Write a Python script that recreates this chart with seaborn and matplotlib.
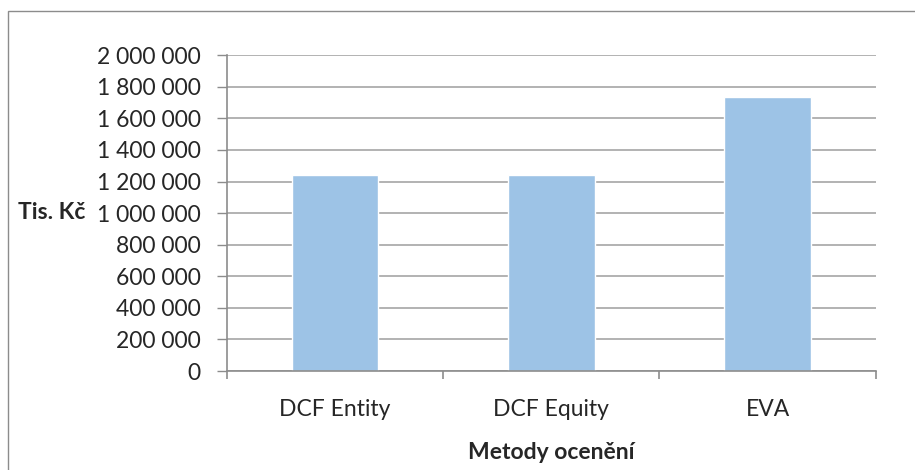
import pandas as pd
import matplotlib.pyplot as plt
import seaborn as sns
from matplotlib.patches import Rectangle
from matplotlib.ticker import FuncFormatter, FixedLocator

# Data
metody = ['DCF Entity', 'DCF Equity', 'EVA']
hodnoty = [1244000, 1244000, 1733000]
y_ticks = list(range(0, 2000001, 200000))

data = pd.DataFrame({'Metoda': metody, 'Hodnota': hodnoty})

sns.set_style('white')
plt.rcParams['font.family'] = ['Lato', 'DejaVu Sans']
fs = 16.5

fig = plt.figure(figsize=(9.15, 4.7), dpi=100)
ax = fig.add_axes([0.248, 0.2106, 0.709, 0.672])

sns.barplot(data=data, x='Metoda', y='Hodnota', color='#9DC3E6',
            width=0.40, saturation=1, ax=ax)

ax.set_xlim(-0.5, 2.5)
ax.set_ylim(0, 2000000)
ax.set_yticks(y_ticks)
ax.yaxis.set_major_formatter(FuncFormatter(lambda v, p: f'{int(v):,}'.replace(',', ' ')))
ax.yaxis.grid(True, color='#A6A6A6', linewidth=1.2)
ax.set_axisbelow(True)

for s in ['top', 'right']:
    ax.spines[s].set_visible(False)
for s in ['left', 'bottom']:
    ax.spines[s].set_color('#8C8C8C')
    ax.spines[s].set_linewidth(1.2)

ax.tick_params(axis='y', which='major', left=True, length=7, color='#8C8C8C', width=1,
               labelsize=fs, pad=12)
ax.tick_params(axis='x', which='major', length=0, labelsize=fs, pad=20)
ax.xaxis.set_minor_locator(FixedLocator([-0.5, 0.5, 1.5, 2.5]))
ax.tick_params(axis='x', which='minor', bottom=True, length=6, color='#8C8C8C', width=1.2)

ax.set_xlabel('Metody ocenění', fontsize=fs, fontweight='bold')
ax.xaxis.set_label_coords(0.5, -0.224)
ax.set_ylabel('')
fig.text(0.0197, 0.547, 'Tis. Kč', fontsize=fs, fontweight='bold',
         ha='left', va='center')

# Frame around the chart area (right and bottom edges fall outside the picture)
fig.patches.append(Rectangle((0.009, -0.05), 1.2, 1.027, transform=fig.transFigure,
                             fill=False, edgecolor='#8C8C8C', linewidth=1))

plt.savefig('out.png', dpi=100)
